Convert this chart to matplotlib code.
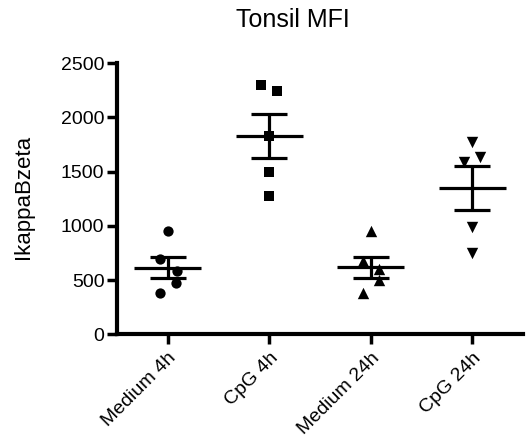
import numpy as np
import matplotlib
matplotlib.use("Agg")
import matplotlib.pyplot as plt

plt.rcParams['font.family'] = ['Liberation Sans', 'DejaVu Sans']

categories = ["Medium 4h", "CpG 4h", "Medium 24h", "CpG 24h"]
medium_4h = [950, 695, 584, 470, 378]
cpg_4h = [2301, 2249, 1833, 1495, 1279]
medium_24h = [952, 675, 598, 500, 377]
cpg_24h = [1772, 1634, 1593, 993, 748]
series = [medium_4h, cpg_4h, medium_24h, cpg_24h]
markers = ["o", "s", "^", "v"]
# horizontal scatter spread within each column (in category units)
jitter = [
    [0, -0.075, 0.088, 0.08, -0.075],
    [-0.08, 0.08, 0, 0, 0],
    [0, -0.08, 0.08, 0.08, -0.08],
    [0, 0.08, -0.08, 0, 0],
]
yticks = [0, 500, 1000, 1500, 2000, 2500]

W, H = 527, 442
fig = plt.figure(figsize=(W / 100, H / 100), dpi=100)
ax = fig.add_axes([117 / W, 1 - 334.3 / H, (523 - 117) / W, (334.3 - 63.3) / H])

for i, (vals, mk, jit) in enumerate(zip(series, markers, jitter)):
    x = i + 1
    vals = np.array(vals, dtype=float)
    mean = vals.mean()
    sem = vals.std(ddof=1) / np.sqrt(len(vals))
    ax.scatter(x + np.array(jit), vals, marker=mk, s=(7.4 if mk in "os" else 8.2) ** 2,
               color="black", linewidths=0, zorder=3)
    ax.hlines(mean, x - 0.33, x + 0.33, color="black", lw=2.3, zorder=2)
    ax.hlines([mean - sem, mean + sem], x - 0.175, x + 0.175, color="black", lw=2.3, zorder=2)
    ax.vlines(x, mean - sem, mean + sem, color="black", lw=2.3, zorder=2)

ax.set_xlim(0.5, 4.5)
ax.set_ylim(0, 2500)
ax.set_yticks(yticks)
ax.set_yticklabels([str(v) for v in yticks], fontsize=14)
ax.set_xticks(range(1, len(categories) + 1))
ax.set_xticklabels(categories, rotation=45, ha="right", rotation_mode="anchor", fontsize=14)

for side in ["top", "right"]:
    ax.spines[side].set_visible(False)
for side in ["left", "bottom"]:
    ax.spines[side].set_linewidth(3)
ax.tick_params(axis="both", width=2.5, length=7, pad=2, direction="out")
ax.tick_params(axis="x", pad=4)

fig.text(23 / W, 1 - 196.5 / H, "IkappaBzeta", rotation=90, ha="center", va="center", fontsize=16)
fig.text(293 / W, 1 - 27 / H, "Tonsil MFI", ha="center", va="baseline", fontsize=18)

fig.savefig("out.png", dpi=100)
